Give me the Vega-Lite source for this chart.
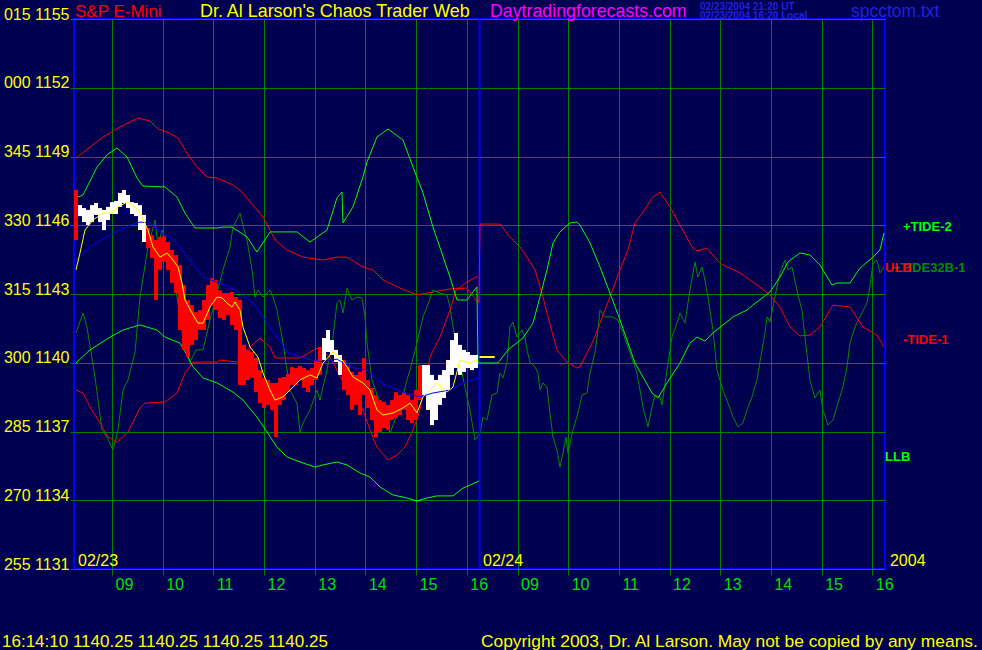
{
"$schema":"https://vega.github.io/schema/vega-lite/v6.json",
"width":811,"height":550,
"autosize":{"type":"none"},
"padding":{"left":74,"top":19,"right":97,"bottom":81},
"background":"#000050",
"config":{"view":{"stroke":"#0000ff","strokeWidth":2,"fill":"#000050"},"font":"Liberation Sans"},
"datasets":{
"sep":[{"t":8}],
"cur":[{"t":8.0,"t2":8.3,"p":1140.25}],
"bars":[
{"t":0.039,"hi":1147.54,"lo":1145.36,"d":"down"},
{"t":0.118,"hi":1146.88,"lo":1146.40,"d":"up"},
{"t":0.197,"hi":1146.75,"lo":1146.14,"d":"up"},
{"t":0.276,"hi":1146.67,"lo":1146.01,"d":"up"},
{"t":0.355,"hi":1146.88,"lo":1146.14,"d":"up"},
{"t":0.434,"hi":1146.97,"lo":1146.45,"d":"up"},
{"t":0.513,"hi":1146.75,"lo":1146.14,"d":"up"},
{"t":0.592,"hi":1146.67,"lo":1145.79,"d":"up"},
{"t":0.671,"hi":1146.80,"lo":1146.23,"d":"up"},
{"t":0.750,"hi":1147.01,"lo":1146.49,"d":"up"},
{"t":0.829,"hi":1147.06,"lo":1146.49,"d":"up"},
{"t":0.907,"hi":1147.41,"lo":1146.80,"d":"up"},
{"t":0.986,"hi":1147.54,"lo":1146.97,"d":"up"},
{"t":1.065,"hi":1147.32,"lo":1146.75,"d":"up"},
{"t":1.144,"hi":1147.01,"lo":1146.49,"d":"up"},
{"t":1.223,"hi":1146.97,"lo":1146.40,"d":"up"},
{"t":1.302,"hi":1146.88,"lo":1145.79,"d":"up"},
{"t":1.381,"hi":1146.45,"lo":1145.27,"d":"up"},
{"t":1.460,"hi":1145.88,"lo":1145.01,"d":"down"},
{"t":1.539,"hi":1145.57,"lo":1144.57,"d":"down"},
{"t":1.618,"hi":1145.36,"lo":1142.74,"d":"down"},
{"t":1.697,"hi":1145.49,"lo":1144.05,"d":"down"},
{"t":1.776,"hi":1145.53,"lo":1144.40,"d":"down"},
{"t":1.854,"hi":1145.27,"lo":1144.05,"d":"down"},
{"t":1.933,"hi":1144.92,"lo":1143.48,"d":"down"},
{"t":2.012,"hi":1144.70,"lo":1143.04,"d":"down"},
{"t":2.091,"hi":1144.27,"lo":1141.43,"d":"down"},
{"t":2.170,"hi":1143.39,"lo":1140.56,"d":"down"},
{"t":2.249,"hi":1142.74,"lo":1140.25,"d":"down"},
{"t":2.328,"hi":1142.52,"lo":1140.78,"d":"down"},
{"t":2.407,"hi":1142.21,"lo":1140.99,"d":"down"},
{"t":2.486,"hi":1142.30,"lo":1141.43,"d":"down"},
{"t":2.565,"hi":1142.74,"lo":1141.43,"d":"down"},
{"t":2.644,"hi":1143.39,"lo":1141.87,"d":"down"},
{"t":2.722,"hi":1143.70,"lo":1142.52,"d":"down"},
{"t":2.801,"hi":1143.61,"lo":1142.30,"d":"down"},
{"t":2.880,"hi":1143.17,"lo":1141.95,"d":"down"},
{"t":2.959,"hi":1143.04,"lo":1141.87,"d":"down"},
{"t":3.038,"hi":1143.04,"lo":1142.08,"d":"down"},
{"t":3.117,"hi":1143.09,"lo":1141.65,"d":"down"},
{"t":3.196,"hi":1142.87,"lo":1141.43,"d":"down"},
{"t":3.275,"hi":1142.74,"lo":1139.03,"d":"down"},
{"t":3.354,"hi":1140.78,"lo":1139.03,"d":"down"},
{"t":3.433,"hi":1140.56,"lo":1139.25,"d":"down"},
{"t":3.512,"hi":1140.47,"lo":1139.34,"d":"down"},
{"t":3.590,"hi":1140.21,"lo":1138.72,"d":"down"},
{"t":3.669,"hi":1139.68,"lo":1138.24,"d":"down"},
{"t":3.748,"hi":1139.34,"lo":1138.03,"d":"down"},
{"t":3.827,"hi":1139.25,"lo":1138.16,"d":"down"},
{"t":3.906,"hi":1139.12,"lo":1137.94,"d":"down"},
{"t":3.985,"hi":1139.12,"lo":1136.76,"d":"down"},
{"t":4.064,"hi":1139.34,"lo":1138.16,"d":"down"},
{"t":4.143,"hi":1139.38,"lo":1138.37,"d":"down"},
{"t":4.222,"hi":1139.51,"lo":1138.72,"d":"down"},
{"t":4.301,"hi":1139.82,"lo":1139.03,"d":"down"},
{"t":4.380,"hi":1139.77,"lo":1139.03,"d":"down"},
{"t":4.459,"hi":1139.86,"lo":1139.25,"d":"down"},
{"t":4.537,"hi":1139.77,"lo":1138.90,"d":"down"},
{"t":4.616,"hi":1139.68,"lo":1138.72,"d":"down"},
{"t":4.695,"hi":1139.77,"lo":1139.03,"d":"down"},
{"t":4.774,"hi":1140.12,"lo":1139.25,"d":"down"},
{"t":4.853,"hi":1140.69,"lo":1139.47,"d":"down"},
{"t":4.932,"hi":1141.08,"lo":1140.12,"d":"up"},
{"t":5.011,"hi":1141.43,"lo":1140.47,"d":"up"},
{"t":5.090,"hi":1140.99,"lo":1140.34,"d":"up"},
{"t":5.169,"hi":1140.56,"lo":1140.03,"d":"up"},
{"t":5.248,"hi":1140.34,"lo":1139.47,"d":"up"},
{"t":5.327,"hi":1140.12,"lo":1138.81,"d":"down"},
{"t":5.405,"hi":1139.90,"lo":1138.59,"d":"down"},
{"t":5.484,"hi":1139.60,"lo":1137.94,"d":"down"},
{"t":5.563,"hi":1139.47,"lo":1138.16,"d":"down"},
{"t":5.642,"hi":1139.60,"lo":1137.72,"d":"down"},
{"t":5.721,"hi":1140.21,"lo":1138.59,"d":"down"},
{"t":5.800,"hi":1139.25,"lo":1138.03,"d":"down"},
{"t":5.879,"hi":1138.90,"lo":1137.50,"d":"down"},
{"t":5.958,"hi":1138.59,"lo":1136.76,"d":"down"},
{"t":6.037,"hi":1138.37,"lo":1136.98,"d":"down"},
{"t":6.116,"hi":1138.29,"lo":1137.15,"d":"down"},
{"t":6.195,"hi":1138.16,"lo":1137.07,"d":"down"},
{"t":6.273,"hi":1138.37,"lo":1137.50,"d":"down"},
{"t":6.352,"hi":1138.72,"lo":1137.59,"d":"down"},
{"t":6.431,"hi":1138.59,"lo":1137.72,"d":"down"},
{"t":6.510,"hi":1138.72,"lo":1137.94,"d":"down"},
{"t":6.589,"hi":1138.59,"lo":1137.50,"d":"down"},
{"t":6.668,"hi":1138.37,"lo":1137.37,"d":"down"},
{"t":6.747,"hi":1138.81,"lo":1137.50,"d":"down"},
{"t":6.826,"hi":1139.90,"lo":1138.37,"d":"down"},
{"t":6.905,"hi":1139.90,"lo":1138.59,"d":"up"},
{"t":6.984,"hi":1139.90,"lo":1137.94,"d":"up"},
{"t":7.063,"hi":1139.47,"lo":1137.28,"d":"up"},
{"t":7.142,"hi":1139.25,"lo":1137.50,"d":"up"},
{"t":7.220,"hi":1139.47,"lo":1138.16,"d":"up"},
{"t":7.299,"hi":1139.68,"lo":1138.46,"d":"up"},
{"t":7.378,"hi":1140.12,"lo":1138.81,"d":"up"},
{"t":7.457,"hi":1140.99,"lo":1139.47,"d":"up"},
{"t":7.536,"hi":1141.30,"lo":1139.77,"d":"up"},
{"t":7.615,"hi":1140.78,"lo":1139.47,"d":"up"},
{"t":7.694,"hi":1140.56,"lo":1139.60,"d":"up"},
{"t":7.773,"hi":1140.47,"lo":1139.77,"d":"up"},
{"t":7.852,"hi":1140.34,"lo":1139.68,"d":"up"},
{"t":7.931,"hi":1140.34,"lo":1139.77,"d":"up"}
],
"lines":[
{"s":"ULB","t":0.039,"p":1148.93},{"s":"ULB","t":0.316,"p":1149.41},{"s":"ULB","t":0.572,"p":1149.85},{"s":"ULB","t":0.907,"p":1150.29},{"s":"ULB","t":1.263,"p":1150.68},{"s":"ULB","t":1.499,"p":1150.55},{"s":"ULB","t":1.657,"p":1150.20},{"s":"ULB","t":1.835,"p":1150.07},{"s":"ULB","t":2.052,"p":1149.81},{"s":"ULB","t":2.249,"p":1149.07},{"s":"ULB","t":2.427,"p":1148.54},{"s":"ULB","t":2.624,"p":1148.11},{"s":"ULB","t":2.821,"p":1148.06},{"s":"ULB","t":3.137,"p":1147.76},{"s":"ULB","t":3.314,"p":1147.45},{"s":"ULB","t":3.531,"p":1146.88},{"s":"ULB","t":3.729,"p":1146.36},{"s":"ULB","t":3.867,"p":1145.79},{"s":"ULB","t":3.965,"p":1145.36},{"s":"ULB","t":4.202,"p":1144.92},{"s":"ULB","t":4.518,"p":1144.61},{"s":"ULB","t":4.912,"p":1144.48},{"s":"ULB","t":5.188,"p":1144.61},{"s":"ULB","t":5.386,"p":1144.61},{"s":"ULB","t":5.701,"p":1144.18},{"s":"ULB","t":5.899,"p":1144.05},{"s":"ULB","t":6.096,"p":1143.61},{"s":"ULB","t":6.431,"p":1143.26},{"s":"ULB","t":6.767,"p":1142.96},{"s":"ULB","t":7.082,"p":1143.09},{"s":"ULB","t":7.418,"p":1143.22},{"s":"ULB","t":7.753,"p":1143.26},{"s":"ULB","t":7.970,"p":1142.61},
{"s":"LRB","t":0.039,"p":1138.81},{"s":"LRB","t":0.178,"p":1138.68},{"s":"LRB","t":0.316,"p":1138.07},{"s":"LRB","t":0.513,"p":1137.37},{"s":"LRB","t":0.671,"p":1136.76},{"s":"LRB","t":0.848,"p":1136.54},{"s":"LRB","t":1.065,"p":1136.98},{"s":"LRB","t":1.302,"p":1138.03},{"s":"LRB","t":1.401,"p":1138.24},{"s":"LRB","t":1.795,"p":1138.29},{"s":"LRB","t":2.032,"p":1138.68},{"s":"LRB","t":2.190,"p":1139.55},{"s":"LRB","t":2.348,"p":1140.03},{"s":"LRB","t":2.821,"p":1140.03},{"s":"LRB","t":2.880,"p":1140.12},{"s":"LRB","t":3.216,"p":1140.03},{"s":"LRB","t":3.413,"p":1140.56},{"s":"LRB","t":3.669,"p":1141.08},{"s":"LRB","t":3.867,"p":1140.69},{"s":"LRB","t":3.965,"p":1140.21},{"s":"LRB","t":4.459,"p":1140.21},{"s":"LRB","t":4.794,"p":1140.64},{"s":"LRB","t":5.050,"p":1140.25},{"s":"LRB","t":5.188,"p":1139.68},{"s":"LRB","t":5.386,"p":1138.81},{"s":"LRB","t":5.583,"p":1138.37},{"s":"LRB","t":5.701,"p":1137.94},{"s":"LRB","t":5.840,"p":1137.07},{"s":"LRB","t":5.977,"p":1136.32},{"s":"LRB","t":6.195,"p":1135.76},{"s":"LRB","t":6.372,"p":1135.97},{"s":"LRB","t":6.530,"p":1136.32},{"s":"LRB","t":6.688,"p":1137.07},{"s":"LRB","t":6.826,"p":1137.94},{"s":"LRB","t":7.023,"p":1140.25},{"s":"LRB","t":7.220,"p":1141.12},{"s":"LRB","t":7.418,"p":1142.30},{"s":"LRB","t":7.536,"p":1143.17},{"s":"LRB","t":7.753,"p":1143.52},{"s":"LRB","t":7.970,"p":1143.79},
{"s":"TIDE1","t":7.990,"p":1142.61},{"s":"TIDE1","t":8.010,"p":1146.05},{"s":"TIDE1","t":8.404,"p":1146.05},{"s":"TIDE1","t":8.601,"p":1145.49},{"s":"TIDE1","t":8.799,"p":1145.05},{"s":"TIDE1","t":8.937,"p":1144.61},{"s":"TIDE1","t":9.095,"p":1144.05},{"s":"TIDE1","t":9.233,"p":1143.04},{"s":"TIDE1","t":9.351,"p":1142.00},{"s":"TIDE1","t":9.528,"p":1140.56},{"s":"TIDE1","t":9.726,"p":1140.03},{"s":"TIDE1","t":9.923,"p":1139.77},{"s":"TIDE1","t":9.982,"p":1139.82},{"s":"TIDE1","t":10.120,"p":1140.43},{"s":"TIDE1","t":10.278,"p":1141.12},{"s":"TIDE1","t":10.377,"p":1141.73},{"s":"TIDE1","t":10.574,"p":1142.87},{"s":"TIDE1","t":10.771,"p":1144.05},{"s":"TIDE1","t":10.929,"p":1144.92},{"s":"TIDE1","t":11.067,"p":1146.10},{"s":"TIDE1","t":11.225,"p":1146.58},{"s":"TIDE1","t":11.403,"p":1147.19},{"s":"TIDE1","t":11.560,"p":1147.45},{"s":"TIDE1","t":11.758,"p":1146.80},{"s":"TIDE1","t":11.955,"p":1146.01},{"s":"TIDE1","t":12.192,"p":1145.05},{"s":"TIDE1","t":12.290,"p":1144.88},{"s":"TIDE1","t":12.488,"p":1145.01},{"s":"TIDE1","t":12.685,"p":1144.48},{"s":"TIDE1","t":12.803,"p":1144.27},{"s":"TIDE1","t":13.139,"p":1143.92},{"s":"TIDE1","t":13.336,"p":1143.61},{"s":"TIDE1","t":13.474,"p":1143.39},{"s":"TIDE1","t":13.731,"p":1142.96},{"s":"TIDE1","t":13.928,"p":1142.43},{"s":"TIDE1","t":14.125,"p":1141.56},{"s":"TIDE1","t":14.322,"p":1141.17},{"s":"TIDE1","t":14.520,"p":1141.21},{"s":"TIDE1","t":14.717,"p":1141.56},{"s":"TIDE1","t":14.973,"p":1142.52},{"s":"TIDE1","t":15.309,"p":1142.43},{"s":"TIDE1","t":15.565,"p":1141.56},{"s":"TIDE1","t":15.841,"p":1141.21},{"s":"TIDE1","t":15.980,"p":1140.69},
{"s":"TIDE2","t":0.039,"p":1147.19},{"s":"TIDE2","t":0.178,"p":1147.32},{"s":"TIDE2","t":0.454,"p":1148.54},{"s":"TIDE2","t":0.651,"p":1149.07},{"s":"TIDE2","t":0.848,"p":1149.37},{"s":"TIDE2","t":1.046,"p":1148.98},{"s":"TIDE2","t":1.243,"p":1148.06},{"s":"TIDE2","t":1.361,"p":1147.71},{"s":"TIDE2","t":1.795,"p":1147.67},{"s":"TIDE2","t":2.032,"p":1147.23},{"s":"TIDE2","t":2.190,"p":1146.53},{"s":"TIDE2","t":2.387,"p":1145.88},{"s":"TIDE2","t":2.821,"p":1145.88},{"s":"TIDE2","t":2.939,"p":1145.92},{"s":"TIDE2","t":3.117,"p":1145.92},{"s":"TIDE2","t":3.413,"p":1145.49},{"s":"TIDE2","t":3.610,"p":1144.83},{"s":"TIDE2","t":3.867,"p":1145.71},{"s":"TIDE2","t":4.399,"p":1145.71},{"s":"TIDE2","t":4.656,"p":1145.27},{"s":"TIDE2","t":4.991,"p":1145.79},{"s":"TIDE2","t":5.188,"p":1147.19},{"s":"TIDE2","t":5.287,"p":1147.45},{"s":"TIDE2","t":5.307,"p":1146.10},{"s":"TIDE2","t":5.504,"p":1146.80},{"s":"TIDE2","t":5.701,"p":1148.11},{"s":"TIDE2","t":5.780,"p":1148.76},{"s":"TIDE2","t":5.977,"p":1149.85},{"s":"TIDE2","t":6.195,"p":1150.20},{"s":"TIDE2","t":6.490,"p":1149.72},{"s":"TIDE2","t":6.688,"p":1148.54},{"s":"TIDE2","t":6.885,"p":1147.41},{"s":"TIDE2","t":7.082,"p":1145.92},{"s":"TIDE2","t":7.418,"p":1143.74},{"s":"TIDE2","t":7.556,"p":1142.74},{"s":"TIDE2","t":7.753,"p":1142.74},{"s":"TIDE2","t":7.950,"p":1143.31},{"s":"TIDE2","t":7.970,"p":1139.99},{"s":"TIDE2","t":8.365,"p":1139.99},{"s":"TIDE2","t":8.562,"p":1140.56},{"s":"TIDE2","t":8.858,"p":1141.08},{"s":"TIDE2","t":9.055,"p":1141.73},{"s":"TIDE2","t":9.193,"p":1142.87},{"s":"TIDE2","t":9.331,"p":1144.05},{"s":"TIDE2","t":9.450,"p":1145.23},{"s":"TIDE2","t":9.588,"p":1145.71},{"s":"TIDE2","t":9.785,"p":1146.10},{"s":"TIDE2","t":9.923,"p":1146.14},{"s":"TIDE2","t":9.982,"p":1146.01},{"s":"TIDE2","t":10.180,"p":1145.23},{"s":"TIDE2","t":10.377,"p":1144.18},{"s":"TIDE2","t":10.574,"p":1143.04},{"s":"TIDE2","t":10.771,"p":1141.87},{"s":"TIDE2","t":10.909,"p":1140.99},{"s":"TIDE2","t":11.067,"p":1139.99},{"s":"TIDE2","t":11.225,"p":1139.38},{"s":"TIDE2","t":11.403,"p":1138.68},{"s":"TIDE2","t":11.521,"p":1138.46},{"s":"TIDE2","t":11.699,"p":1139.12},{"s":"TIDE2","t":11.955,"p":1139.99},{"s":"TIDE2","t":12.152,"p":1140.86},{"s":"TIDE2","t":12.290,"p":1141.12},{"s":"TIDE2","t":12.448,"p":1140.95},{"s":"TIDE2","t":12.606,"p":1141.30},{"s":"TIDE2","t":13.001,"p":1142.00},{"s":"TIDE2","t":13.277,"p":1142.30},{"s":"TIDE2","t":13.395,"p":1142.52},{"s":"TIDE2","t":13.731,"p":1143.09},{"s":"TIDE2","t":13.928,"p":1143.74},{"s":"TIDE2","t":14.086,"p":1144.40},{"s":"TIDE2","t":14.322,"p":1144.79},{"s":"TIDE2","t":14.520,"p":1144.70},{"s":"TIDE2","t":14.717,"p":1144.27},{"s":"TIDE2","t":14.954,"p":1143.39},{"s":"TIDE2","t":15.052,"p":1143.48},{"s":"TIDE2","t":15.309,"p":1143.48},{"s":"TIDE2","t":15.506,"p":1144.13},{"s":"TIDE2","t":15.763,"p":1144.61},{"s":"TIDE2","t":15.901,"p":1144.92},{"s":"TIDE2","t":15.980,"p":1145.66},
{"s":"LLB","t":0.039,"p":1139.99},{"s":"LLB","t":0.316,"p":1140.56},{"s":"LLB","t":0.710,"p":1141.12},{"s":"LLB","t":0.967,"p":1141.43},{"s":"LLB","t":1.302,"p":1141.65},{"s":"LLB","t":1.637,"p":1141.43},{"s":"LLB","t":1.795,"p":1141.12},{"s":"LLB","t":2.091,"p":1140.86},{"s":"LLB","t":2.249,"p":1140.25},{"s":"LLB","t":2.348,"p":1139.82},{"s":"LLB","t":2.545,"p":1139.34},{"s":"LLB","t":2.821,"p":1139.12},{"s":"LLB","t":3.137,"p":1138.72},{"s":"LLB","t":3.334,"p":1138.37},{"s":"LLB","t":3.610,"p":1137.63},{"s":"LLB","t":3.807,"p":1136.98},{"s":"LLB","t":4.005,"p":1136.32},{"s":"LLB","t":4.202,"p":1135.89},{"s":"LLB","t":4.459,"p":1135.67},{"s":"LLB","t":4.754,"p":1135.45},{"s":"LLB","t":4.912,"p":1135.54},{"s":"LLB","t":5.188,"p":1135.67},{"s":"LLB","t":5.386,"p":1135.54},{"s":"LLB","t":5.642,"p":1135.19},{"s":"LLB","t":5.840,"p":1135.01},{"s":"LLB","t":6.037,"p":1134.58},{"s":"LLB","t":6.293,"p":1134.23},{"s":"LLB","t":6.569,"p":1134.10},{"s":"LLB","t":6.767,"p":1133.97},{"s":"LLB","t":6.964,"p":1134.10},{"s":"LLB","t":7.161,"p":1134.19},{"s":"LLB","t":7.477,"p":1134.19},{"s":"LLB","t":7.674,"p":1134.53},{"s":"LLB","t":7.990,"p":1134.84},
{"s":"MA2","t":0.039,"p":1144.48},{"s":"MA2","t":0.316,"p":1145.05},{"s":"MA2","t":0.710,"p":1145.57},{"s":"MA2","t":1.105,"p":1146.01},{"s":"MA2","t":1.302,"p":1146.14},{"s":"MA2","t":1.499,"p":1146.10},{"s":"MA2","t":1.697,"p":1145.71},{"s":"MA2","t":1.894,"p":1145.49},{"s":"MA2","t":2.091,"p":1145.05},{"s":"MA2","t":2.288,"p":1144.48},{"s":"MA2","t":2.545,"p":1143.74},{"s":"MA2","t":2.821,"p":1143.52},{"s":"MA2","t":3.078,"p":1143.31},{"s":"MA2","t":3.275,"p":1143.04},{"s":"MA2","t":3.531,"p":1142.61},{"s":"MA2","t":3.807,"p":1141.73},{"s":"MA2","t":4.005,"p":1141.12},{"s":"MA2","t":4.202,"p":1140.47},{"s":"MA2","t":4.518,"p":1140.21},{"s":"MA2","t":4.912,"p":1140.03},{"s":"MA2","t":5.188,"p":1140.16},{"s":"MA2","t":5.445,"p":1139.82},{"s":"MA2","t":5.780,"p":1139.68},{"s":"MA2","t":5.977,"p":1139.25},{"s":"MA2","t":6.234,"p":1138.94},{"s":"MA2","t":6.490,"p":1138.72},{"s":"MA2","t":6.826,"p":1138.51},{"s":"MA2","t":7.082,"p":1138.68},{"s":"MA2","t":7.418,"p":1138.81},{"s":"MA2","t":7.674,"p":1139.12},{"s":"MA2","t":7.970,"p":1139.34},
{"s":"MA1","t":0.039,"p":1144.05},{"s":"MA1","t":0.118,"p":1144.79},{"s":"MA1","t":0.217,"p":1145.79},{"s":"MA1","t":0.375,"p":1146.23},{"s":"MA1","t":0.572,"p":1146.53},{"s":"MA1","t":0.750,"p":1146.53},{"s":"MA1","t":0.868,"p":1146.80},{"s":"MA1","t":1.046,"p":1147.01},{"s":"MA1","t":1.203,"p":1146.80},{"s":"MA1","t":1.302,"p":1146.53},{"s":"MA1","t":1.460,"p":1145.79},{"s":"MA1","t":1.558,"p":1145.05},{"s":"MA1","t":1.697,"p":1144.61},{"s":"MA1","t":1.835,"p":1144.79},{"s":"MA1","t":1.953,"p":1144.48},{"s":"MA1","t":2.052,"p":1144.18},{"s":"MA1","t":2.131,"p":1143.48},{"s":"MA1","t":2.190,"p":1142.74},{"s":"MA1","t":2.328,"p":1142.17},{"s":"MA1","t":2.446,"p":1141.73},{"s":"MA1","t":2.545,"p":1141.73},{"s":"MA1","t":2.683,"p":1142.43},{"s":"MA1","t":2.821,"p":1142.87},{"s":"MA1","t":2.920,"p":1142.83},{"s":"MA1","t":3.018,"p":1142.61},{"s":"MA1","t":3.117,"p":1142.43},{"s":"MA1","t":3.176,"p":1142.65},{"s":"MA1","t":3.275,"p":1142.30},{"s":"MA1","t":3.334,"p":1141.56},{"s":"MA1","t":3.472,"p":1140.69},{"s":"MA1","t":3.630,"p":1140.25},{"s":"MA1","t":3.729,"p":1139.55},{"s":"MA1","t":3.867,"p":1138.81},{"s":"MA1","t":3.965,"p":1138.37},{"s":"MA1","t":4.123,"p":1138.51},{"s":"MA1","t":4.261,"p":1138.81},{"s":"MA1","t":4.459,"p":1139.25},{"s":"MA1","t":4.656,"p":1139.47},{"s":"MA1","t":4.794,"p":1139.34},{"s":"MA1","t":4.912,"p":1139.99},{"s":"MA1","t":5.110,"p":1140.47},{"s":"MA1","t":5.248,"p":1140.25},{"s":"MA1","t":5.386,"p":1139.82},{"s":"MA1","t":5.504,"p":1139.38},{"s":"MA1","t":5.701,"p":1139.12},{"s":"MA1","t":5.840,"p":1138.81},{"s":"MA1","t":5.977,"p":1137.94},{"s":"MA1","t":6.096,"p":1137.72},{"s":"MA1","t":6.293,"p":1137.81},{"s":"MA1","t":6.490,"p":1138.03},{"s":"MA1","t":6.629,"p":1138.24},{"s":"MA1","t":6.767,"p":1137.81},{"s":"MA1","t":6.885,"p":1138.51},{"s":"MA1","t":7.023,"p":1138.81},{"s":"MA1","t":7.161,"p":1139.12},{"s":"MA1","t":7.358,"p":1138.72},{"s":"MA1","t":7.477,"p":1138.94},{"s":"MA1","t":7.615,"p":1140.12},{"s":"MA1","t":7.812,"p":1139.99},{"s":"MA1","t":7.970,"p":1140.12}
],
"t32":[
{"t":0.039,"p":1141.30},{"t":0.178,"p":1142.17},{"t":0.256,"p":1141.56},{"t":0.414,"p":1139.38},{"t":0.552,"p":1137.07},{"t":0.651,"p":1136.76},{"t":0.769,"p":1136.19},{"t":0.868,"p":1137.07},{"t":0.967,"p":1138.81},{"t":1.065,"p":1139.25},{"t":1.203,"p":1140.43},{"t":1.302,"p":1142.87},{"t":1.460,"p":1145.05},{"t":1.598,"p":1146.23},{"t":1.657,"p":1145.05},{"t":1.736,"p":1145.79},{"t":1.854,"p":1144.92},{"t":2.012,"p":1143.17},{"t":2.170,"p":1140.78},{"t":2.288,"p":1140.03},{"t":2.407,"p":1140.56},{"t":2.545,"p":1140.56},{"t":2.683,"p":1141.87},{"t":2.821,"p":1143.04},{"t":2.939,"p":1144.05},{"t":3.078,"p":1145.05},{"t":3.137,"p":1145.92},{"t":3.275,"p":1146.53},{"t":3.334,"p":1146.01},{"t":3.413,"p":1145.36},{"t":3.512,"p":1144.05},{"t":3.571,"p":1142.87},{"t":3.630,"p":1143.17},{"t":3.729,"p":1142.87},{"t":3.867,"p":1143.17},{"t":3.926,"p":1142.87},{"t":4.005,"p":1142.30},{"t":4.123,"p":1140.86},{"t":4.202,"p":1139.68},{"t":4.261,"p":1138.81},{"t":4.399,"p":1138.24},{"t":4.459,"p":1136.98},{"t":4.518,"p":1137.37},{"t":4.656,"p":1137.94},{"t":4.794,"p":1138.81},{"t":4.853,"p":1138.37},{"t":4.991,"p":1139.68},{"t":5.110,"p":1141.12},{"t":5.188,"p":1142.61},{"t":5.248,"p":1142.74},{"t":5.307,"p":1142.17},{"t":5.386,"p":1143.26},{"t":5.484,"p":1142.74},{"t":5.583,"p":1142.87},{"t":5.682,"p":1142.83},{"t":5.741,"p":1142.00},{"t":5.780,"p":1140.86},{"t":5.879,"p":1139.25},{"t":6.037,"p":1138.24},{"t":6.175,"p":1137.37},{"t":6.234,"p":1136.93},{"t":6.333,"p":1137.50},{"t":6.471,"p":1138.37},{"t":6.569,"p":1139.25},{"t":6.629,"p":1139.68},{"t":6.767,"p":1140.86},{"t":6.885,"p":1142.00},{"t":6.964,"p":1142.43},{"t":7.082,"p":1143.17},{"t":7.220,"p":1143.04},{"t":7.358,"p":1142.96},{"t":7.418,"p":1142.43},{"t":7.477,"p":1141.56},{"t":7.615,"p":1139.99},{"t":7.753,"p":1138.51},{"t":7.812,"p":1137.94},{"t":7.911,"p":1136.63},{"t":8.010,"p":1136.93},{"t":8.069,"p":1137.63},{"t":8.148,"p":1137.50},{"t":8.246,"p":1138.59},{"t":8.345,"p":1138.68},{"t":8.404,"p":1139.55},{"t":8.463,"p":1139.34},{"t":8.542,"p":1139.99},{"t":8.601,"p":1141.56},{"t":8.660,"p":1141.78},{"t":8.739,"p":1141.12},{"t":8.838,"p":1141.43},{"t":8.897,"p":1141.12},{"t":8.937,"p":1140.56},{"t":8.996,"p":1140.03},{"t":9.095,"p":1139.82},{"t":9.154,"p":1139.55},{"t":9.193,"p":1138.81},{"t":9.252,"p":1139.12},{"t":9.331,"p":1138.94},{"t":9.390,"p":1137.81},{"t":9.450,"p":1136.76},{"t":9.528,"p":1136.19},{"t":9.588,"p":1135.45},{"t":9.647,"p":1136.06},{"t":9.706,"p":1136.76},{"t":9.746,"p":1136.06},{"t":9.844,"p":1137.07},{"t":9.943,"p":1137.81},{"t":10.022,"p":1138.59},{"t":10.120,"p":1138.68},{"t":10.180,"p":1139.55},{"t":10.278,"p":1140.43},{"t":10.337,"p":1141.43},{"t":10.377,"p":1142.30},{"t":10.475,"p":1142.00},{"t":10.613,"p":1142.00},{"t":10.732,"p":1141.87},{"t":10.830,"p":1141.30},{"t":10.929,"p":1140.69},{"t":11.107,"p":1139.55},{"t":11.225,"p":1138.07},{"t":11.324,"p":1137.20},{"t":11.403,"p":1138.07},{"t":11.462,"p":1138.59},{"t":11.560,"p":1138.51},{"t":11.600,"p":1138.16},{"t":11.699,"p":1139.68},{"t":11.797,"p":1141.12},{"t":11.896,"p":1141.73},{"t":11.955,"p":1142.17},{"t":12.054,"p":1141.73},{"t":12.152,"p":1143.17},{"t":12.251,"p":1144.40},{"t":12.310,"p":1143.74},{"t":12.389,"p":1144.18},{"t":12.448,"p":1143.61},{"t":12.507,"p":1142.87},{"t":12.606,"p":1141.43},{"t":12.685,"p":1139.68},{"t":12.803,"p":1138.81},{"t":12.902,"p":1138.24},{"t":13.001,"p":1137.63},{"t":13.099,"p":1137.20},{"t":13.198,"p":1137.37},{"t":13.277,"p":1137.94},{"t":13.376,"p":1138.51},{"t":13.474,"p":1139.25},{"t":13.573,"p":1140.56},{"t":13.632,"p":1141.30},{"t":13.671,"p":1142.00},{"t":13.731,"p":1141.78},{"t":13.829,"p":1142.87},{"t":13.928,"p":1143.92},{"t":14.026,"p":1144.48},{"t":14.086,"p":1144.05},{"t":14.165,"p":1144.18},{"t":14.283,"p":1142.96},{"t":14.362,"p":1142.30},{"t":14.421,"p":1141.12},{"t":14.520,"p":1139.25},{"t":14.618,"p":1138.46},{"t":14.717,"p":1138.81},{"t":14.776,"p":1137.94},{"t":14.875,"p":1137.28},{"t":14.973,"p":1137.50},{"t":15.072,"p":1138.24},{"t":15.171,"p":1138.94},{"t":15.250,"p":1139.82},{"t":15.309,"p":1140.86},{"t":15.408,"p":1141.56},{"t":15.506,"p":1142.00},{"t":15.644,"p":1142.61},{"t":15.703,"p":1143.31},{"t":15.763,"p":1144.35},{"t":15.841,"p":1144.48},{"t":15.901,"p":1143.92},{"t":15.980,"p":1144.18}
],
"texts":[
{"r":"tred","t":0.020,"p":1155.09,"text":"S&P E-Mini"},
{"r":"tyel","t":2.486,"p":1155.09,"text":"Dr. Al Larson's Chaos Trader Web"},
{"r":"tmag","t":8.207,"p":1155.09,"text":"Daytradingforecasts.com"},
{"r":"stamp","t":12.350,"p":1155.39,"text":"02/23/2004 21:20 UT"},
{"r":"stamp","t":12.350,"p":1155.0,"text":"02/23/2004 16:20 Local"},
{"r":"file","t":15.329,"p":1155.09,"text":"spcctom.txt"},
{"r":"foot","t":-1.420,"p":1127.60,"text":"16:14:10  1140.25 1140.25 1140.25 1140.25"},
{"r":"copy","t":8.029,"p":1127.60,"text":"Copyright 2003, Dr. Al Larson. May not be copied by any means."},
{"r":"date","t":0.079,"p":1131.13,"text":"02/23"},
{"r":"date","t":8.069,"p":1131.13,"text":"02/24"},
{"r":"date","t":16.098,"p":1131.13,"text":"2004"},
{"r":"lg","t":16.354,"p":1145.92,"text":"+TIDE-2"},
{"r":"lg","t":16.0,"p":1135.90,"text":"LLB"},
{"r":"ldg","t":16.157,"p":1144.13,"text":"+TIDE32B-1"},
{"r":"lr","t":16.0,"p":1144.13,"text":"ULB"},
{"r":"lr","t":16.354,"p":1140.99,"text":"-TIDE-1"}
]
},
"layer":[
{"data":{"name":"t32"},"mark":{"type":"line","color":"#008c00","strokeWidth":1},
 "encoding":{
  "x":{"field":"t","type":"quantitative","scale":{"domain":[0,16],"nice":false,"zero":false},
   "axis":{"title":"","values":[0.75,1.75,2.75,3.75,4.75,5.75,6.75,7.75,8.75,9.75,10.75,11.75,12.75,13.75,14.75,15.75],
    "labelExpr":"format(((datum.value - 0.75) % 8) + 9, '02d')","grid":true,"gridColor":"#008000","gridWidth":1,"gridOpacity":1,
    "domain":false,"ticks":true,"tickColor":"#008000","tickSize":6,"labelColor":"#00e000","labelFont":"Liberation Sans","labelFontSize":16,
    "labelAlign":"left","labelBaseline":"top","labelOffset":3,"labelPadding":1,"labelFlush":false,"labelOverlap":false}},
  "y":{"field":"p","type":"quantitative","scale":{"domain":[1131,1155],"nice":false,"zero":false},
   "axis":{"title":"","values":[1131,1134,1137,1140,1143,1146,1149,1152,1155],
    "labelExpr":"format((datum.value - 1131) * 5 + 255 - (datum.value >= 1152 ? 360 : 0), '03d') + '  ' + format(datum.value, 'd')",
    "grid":true,"gridColor":"#008000","gridWidth":1,"gridOpacity":1,"domain":false,"ticks":true,"tickColor":"#008000","tickSize":4,
    "labelColor":"#ffff00","labelFont":"Liberation Sans","labelFontSize":16,"labelAlign":"right","labelBaseline":"alphabetic","labelPadding":1,"labelFlush":false,"labelOverlap":false}}
 }},
{"data":{"name":"sep"},"mark":{"type":"rule","color":"#0000ff","strokeWidth":2},"encoding":{"x":{"field":"t","type":"quantitative","axis":{"title":""}}}},
{"data":{"name":"lines"},"transform":[{"filter":"datum.s == 'ULB' || datum.s == 'LRB' || datum.s == 'TIDE1'"}],
 "mark":{"type":"line","color":"#ff0000","strokeWidth":1},
 "encoding":{"x":{"field":"t","type":"quantitative","axis":{"title":""}},"y":{"field":"p","type":"quantitative","axis":{"title":""}},"detail":{"field":"s"}}},
{"data":{"name":"lines"},"transform":[{"filter":"datum.s == 'TIDE2' || datum.s == 'LLB'"}],
 "mark":{"type":"line","color":"#00ff00","strokeWidth":1},
 "encoding":{"x":{"field":"t","type":"quantitative","axis":{"title":""}},"y":{"field":"p","type":"quantitative","axis":{"title":""}},"detail":{"field":"s"}}},
{"data":{"name":"bars"},"mark":{"type":"rule","strokeWidth":4},
 "encoding":{"x":{"field":"t","type":"quantitative","axis":{"title":""}},"y":{"field":"lo","type":"quantitative","axis":{"title":""}},"y2":{"field":"hi"},
  "color":{"field":"d","type":"nominal","scale":{"domain":["up","down"],"range":["#ffffff","#ff0000"]},"legend":null}}},
{"data":{"name":"lines"},"transform":[{"filter":"datum.s == 'MA2'"}],
 "mark":{"type":"line","color":"#0000ff","strokeWidth":1},
 "encoding":{"x":{"field":"t","type":"quantitative","axis":{"title":""}},"y":{"field":"p","type":"quantitative","axis":{"title":""}}}},
{"data":{"name":"lines"},"transform":[{"filter":"datum.s == 'MA1'"}],
 "mark":{"type":"line","color":"#ffff00","strokeWidth":1},
 "encoding":{"x":{"field":"t","type":"quantitative","axis":{"title":""}},"y":{"field":"p","type":"quantitative","axis":{"title":""}}}},
{"data":{"name":"cur"},"mark":{"type":"rule","color":"#ffff00","strokeWidth":2},
 "encoding":{"x":{"field":"t","type":"quantitative","axis":{"title":""}},"x2":{"field":"t2"},"y":{"field":"p","type":"quantitative","axis":{"title":""}}}},
{"data":{"name":"texts"},"transform":[{"filter":"datum.r == 'tred'"}],"mark":{"type":"text","align":"left","baseline":"alphabetic","color":"#ff0000","fontSize":17,"font":"Liberation Sans"},
 "encoding":{"x":{"field":"t","type":"quantitative","axis":{"title":""}},"y":{"field":"p","type":"quantitative","axis":{"title":""}},"text":{"field":"text"}}},
{"data":{"name":"texts"},"transform":[{"filter":"datum.r == 'tyel'"}],"mark":{"type":"text","align":"left","baseline":"alphabetic","color":"#ffff00","fontSize":17.9,"font":"Liberation Sans"},
 "encoding":{"x":{"field":"t","type":"quantitative","axis":{"title":""}},"y":{"field":"p","type":"quantitative","axis":{"title":""}},"text":{"field":"text"}}},
{"data":{"name":"texts"},"transform":[{"filter":"datum.r == 'tmag'"}],"mark":{"type":"text","align":"left","baseline":"alphabetic","color":"#ff00ff","fontSize":17.8,"font":"Liberation Sans"},
 "encoding":{"x":{"field":"t","type":"quantitative","axis":{"title":""}},"y":{"field":"p","type":"quantitative","axis":{"title":""}},"text":{"field":"text"}}},
{"data":{"name":"texts"},"transform":[{"filter":"datum.r == 'stamp'"}],"mark":{"type":"text","align":"left","baseline":"alphabetic","color":"#2020e0","fontSize":10,"fontWeight":"bold","font":"Liberation Sans"},
 "encoding":{"x":{"field":"t","type":"quantitative","axis":{"title":""}},"y":{"field":"p","type":"quantitative","axis":{"title":""}},"text":{"field":"text"}}},
{"data":{"name":"texts"},"transform":[{"filter":"datum.r == 'file'"}],"mark":{"type":"text","align":"left","baseline":"alphabetic","color":"#2020e0","fontSize":17.5,"font":"Liberation Sans"},
 "encoding":{"x":{"field":"t","type":"quantitative","axis":{"title":""}},"y":{"field":"p","type":"quantitative","axis":{"title":""}},"text":{"field":"text"}}},
{"data":{"name":"texts"},"transform":[{"filter":"datum.r == 'foot'"}],"mark":{"type":"text","align":"left","baseline":"alphabetic","color":"#ffff00","fontSize":17,"font":"Liberation Sans"},
 "encoding":{"x":{"field":"t","type":"quantitative","axis":{"title":""}},"y":{"field":"p","type":"quantitative","axis":{"title":""}},"text":{"field":"text"}}},
{"data":{"name":"texts"},"transform":[{"filter":"datum.r == 'copy'"}],"mark":{"type":"text","align":"left","baseline":"alphabetic","color":"#ffff00","fontSize":17.4,"font":"Liberation Sans"},
 "encoding":{"x":{"field":"t","type":"quantitative","axis":{"title":""}},"y":{"field":"p","type":"quantitative","axis":{"title":""}},"text":{"field":"text"}}},
{"data":{"name":"texts"},"transform":[{"filter":"datum.r == 'date'"}],"mark":{"type":"text","align":"left","baseline":"alphabetic","color":"#ffff00","fontSize":16,"font":"Liberation Sans"},
 "encoding":{"x":{"field":"t","type":"quantitative","axis":{"title":""}},"y":{"field":"p","type":"quantitative","axis":{"title":""}},"text":{"field":"text"}}},
{"data":{"name":"texts"},"transform":[{"filter":"datum.r == 'ldg'"}],"mark":{"type":"text","align":"left","baseline":"middle","color":"#008c00","fontSize":13,"fontWeight":"bold","font":"Liberation Sans"},
 "encoding":{"x":{"field":"t","type":"quantitative","axis":{"title":""}},"y":{"field":"p","type":"quantitative","axis":{"title":""}},"text":{"field":"text"}}},
{"data":{"name":"texts"},"transform":[{"filter":"datum.r == 'lg'"}],"mark":{"type":"text","align":"left","baseline":"middle","color":"#00ff00","fontSize":13,"fontWeight":"bold","font":"Liberation Sans"},
 "encoding":{"x":{"field":"t","type":"quantitative","axis":{"title":""}},"y":{"field":"p","type":"quantitative","axis":{"title":""}},"text":{"field":"text"}}},
{"data":{"name":"texts"},"transform":[{"filter":"datum.r == 'lr'"}],"mark":{"type":"text","align":"left","baseline":"middle","color":"#ff0000","fontSize":13,"fontWeight":"bold","font":"Liberation Sans"},
 "encoding":{"x":{"field":"t","type":"quantitative","axis":{"title":""}},"y":{"field":"p","type":"quantitative","axis":{"title":""}},"text":{"field":"text"}}}
]
}
